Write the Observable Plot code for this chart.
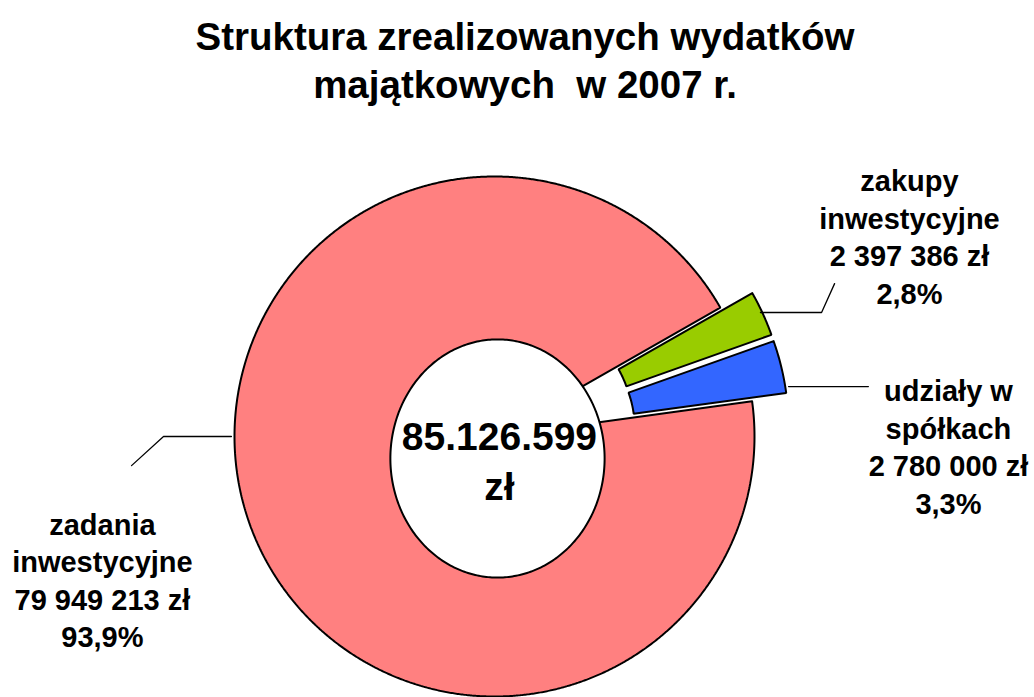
<!DOCTYPE html>
<html><head><meta charset="utf-8">
<script src="https://cdn.jsdelivr.net/npm/d3@7"></script>
<script src="https://cdn.jsdelivr.net/npm/@observablehq/plot@0.6"></script>
<style>
body{margin:0;background:#fff;font-family:"Liberation Sans",Arial,sans-serif;}
#title{height:130px;box-sizing:border-box;padding-top:13px;padding-left:16px;text-align:center;font-weight:bold;font-size:38.5px;line-height:48px;white-space:pre;color:#000}
#chart svg{display:block}
</style></head><body>
<div id="title">Struktura zrealizowanych wydatków
majątkowych  w 2007 r.</div>
<div id="chart"></div>
<script>
// ---- data ----
const categories = ["zakupy inwestycyjne", "udziały w spółkach", "zadania inwestycyjne"];
const nameLines = [["zakupy", "inwestycyjne"], ["udziały w", "spółkach"], ["zadania", "inwestycyjne"]];
const values = [2397386, 2780000, 79949213];
const colors = ["#99CC00", "#3366FF", "#FF8080"];
const exploded = [true, true, false];

// ---- layout (unit-circle coordinates) ----
const START_DEG = 60.3;
const INNER = [0.408, 0.408, 0.3];
const EXPLODE = 0.135;
const labelPos = [[1.596, 1.045], [1.746, 0.237], [-1.508, -0.275]];
const leaders = [
  [[1.023, 0.477], [1.258, 0.477], [1.308, 0.588]],
  [[1.131, 0.192], [1.438, 0.192]],
  [[-1.012, 0.0], [-1.273, 0.0], [-1.396, -0.112]]
];
const hole = {cx: 0.0115, cy: -0.0846, rx: 0.412, ry: 0.458};
const centerPos = [0.019, 0.085];

// ---- derived ----
const total = d3.sum(values);
const fmtSpace = n => d3.format(",")(n).replace(/,/g, " ");
const fmtPct = v => (v / total * 100).toFixed(1).replace(".", ",") + "%";
const labelTexts = values.map((v, i) => [...nameLines[i], fmtSpace(v) + " zł", fmtPct(v)].join("\n"));
const totalText = d3.format(",")(total).replace(/,/g, ".") + "\nzł";

const a0 = START_DEG * Math.PI / 180;
const arcs = d3.pie().sort(null).startAngle(a0).endAngle(a0 + 2 * Math.PI)(values);

function slicePoints(a, i) {
  const mid = (a.startAngle + a.endAngle) / 2;
  const off = exploded[i] ? EXPLODE : 0;
  const ox = off * Math.sin(mid), oy = off * Math.cos(mid);
  const n = Math.max(10, Math.ceil((a.endAngle - a.startAngle) / 0.005));
  const pts = [];
  for (let k = 0; k <= n; k++) {
    const t = a.startAngle + (a.endAngle - a.startAngle) * k / n;
    pts.push({x: ox + Math.sin(t), y: oy + Math.cos(t)});
  }
  for (let k = n; k >= 0; k--) {
    const t = a.startAngle + (a.endAngle - a.startAngle) * k / n;
    pts.push({x: ox + INNER[i] * Math.sin(t), y: oy + INNER[i] * Math.cos(t)});
  }
  pts.push(pts[0]);
  return pts;
}

const holePts = d3.range(0, 361, 1).map(d => {
  const t = d * Math.PI / 180;
  return {x: hole.cx + hole.rx * Math.cos(t), y: hole.cy + hole.ry * Math.sin(t)};
});

const font = "Liberation Sans, Arial, sans-serif";
const marks = [];
[2, 0, 1].forEach(i => {
  marks.push(Plot.line(slicePoints(arcs[i], i), {x: "x", y: "y", fill: colors[i], stroke: "black", strokeWidth: 2, strokeLinejoin: "miter", curve: "linear"}));
});
marks.push(Plot.line(holePts, {x: "x", y: "y", fill: "white", stroke: "black", strokeWidth: 2, curve: "linear"}));
leaders.forEach(l => {
  marks.push(Plot.line(l.map(([x, y]) => ({x, y})), {x: "x", y: "y", stroke: "black", strokeWidth: 1.3}));
});
marks.push(Plot.text(labelTexts.map((t, i) => ({t, x: labelPos[i][0], y: labelPos[i][1]})), {
  x: "x", y: "y", text: "t", fontSize: 29, fontWeight: "bold", fontFamily: font,
  lineAnchor: "top", lineHeight: 1.293, textAnchor: "middle", fill: "black"
}));
marks.push(Plot.text([{t: totalText, x: centerPos[0], y: centerPos[1]}], {
  x: "x", y: "y", text: "t", fontSize: 39, fontWeight: "bold", fontFamily: font,
  lineAnchor: "top", lineHeight: 1.28, textAnchor: "middle", fill: "black"
}));

const chart = Plot.plot({
  width: 1034, height: 567, margin: 0,
  x: {domain: [-1, 1], range: [234, 754], axis: null},
  y: {domain: [-1, 1], range: [566, 46], axis: null},
  style: {background: "white", overflow: "visible"},
  marks
});
document.getElementById("chart").appendChild(chart);
</script>
</body></html>
